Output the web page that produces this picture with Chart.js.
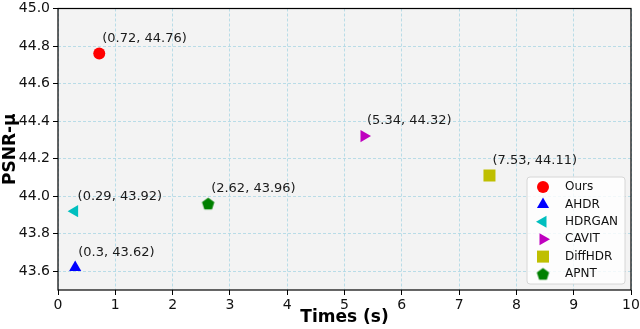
<!DOCTYPE html>
<html>
<head>
<meta charset="utf-8">
<script src="https://cdn.jsdelivr.net/npm/chart.js@4.4.1/dist/chart.umd.min.js"></script>
<style>
  html, body { margin: 0; padding: 0; background: #fff; }
  #wrap { width: 640px; height: 329px; }
</style>
</head>
<body>
<div id="wrap"><canvas id="chartPsnr"></canvas></div>
<script>
const methods = ['Ours', 'AHDR', 'HDRGAN', 'CAVIT', 'DiffHDR', 'APNT'];
const times = [0.72, 0.3, 0.29, 5.34, 7.53, 2.62];
const psnr = [44.76, 43.62, 43.92, 44.32, 44.11, 43.96];
const xTicks = [0, 1, 2, 3, 4, 5, 6, 7, 8, 9, 10];
const yTicks = [43.6, 43.8, 44.0, 44.2, 44.4, 44.6, 44.8, 45.0];

// pentagon marker for APNT, chart.js has no built-in one
function pentagon(color, r) {
  const c = document.createElement('canvas')
  c.width = c.height = Math.ceil(r * 2 + 2)
  const g = c.getContext('2d')
  const cx = c.width / 2, cy = c.height / 2 + 0.5
  g.beginPath()
  for (let i = 0; i < 5; i++) {
    const a = -Math.PI / 2 + i * 2 * Math.PI / 5
    const px = cx + r * Math.cos(a), py = cy + r * Math.sin(a)
    i ? g.lineTo(px, py) : g.moveTo(px, py)
  }
  g.closePath()
  g.fillStyle = color
  g.fill()
  return c
}

const markers = [
  { color: '#ff0000', style: 'circle', radius: 6, rotation: 0 },
  { color: '#0000ff', style: 'triangle', radius: 7, rotation: 0 },
  { color: '#00bfbf', style: 'triangle', radius: 7, rotation: -90 },
  { color: '#bf00bf', style: 'triangle', radius: 7, rotation: 90 },
  { color: '#bfbf00', style: 'rect', radius: 8.5, rotation: 0 },
  { color: '#008000', style: pentagon('#008000', 6.5), radius: 6.5, rotation: 0 }
]

const datasets = methods.map((m, i) => ({
  label: m,
  data: [{ x: times[i], y: psnr[i] }],
  pointStyle: markers[i].style,
  pointRadius: markers[i].radius,
  pointHoverRadius: markers[i].radius,
  pointRotation: markers[i].rotation,
  backgroundColor: markers[i].color,
  borderColor: markers[i].color,
  pointBorderWidth: 0
}))

const frame = {
  id: 'frame',
  beforeDraw(chart) {
    const { ctx, chartArea: a } = chart
    ctx.save()
    ctx.fillStyle = '#f3f3f3'
    ctx.fillRect(a.left, a.top, a.right - a.left, a.bottom - a.top)
    ctx.restore()
  },
  afterDatasetsDraw(chart) {
    const { ctx, chartArea: a } = chart
    ctx.save()
    // value labels next to each point
    ctx.font = '13px "DejaVu Sans"'
    ctx.fillStyle = '#1a1a1a'
    ctx.textBaseline = 'middle'
    chart.data.datasets.forEach((ds, i) => {
      const pt = chart.getDatasetMeta(i).data[0]
      ctx.fillText('(' + times[i] + ', ' + psnr[i] + ')', pt.x + 3, pt.y - 15)
    })
    // spines
    ctx.strokeStyle = '#000'
    ctx.lineWidth = 1.2
    ctx.strokeRect(a.left, a.top, a.right - a.left, a.bottom - a.top)

    // legend box in the lower right
    const bx = 527, by = 177, bw = 98, bh = 107
    ctx.beginPath()
    ctx.roundRect(bx, by, bw, bh, 3)
    ctx.fillStyle = 'rgba(255,255,255,0.8)'
    ctx.fill()
    ctx.strokeStyle = '#d6d6d6'
    ctx.lineWidth = 1
    ctx.stroke()
    ctx.font = '12px "DejaVu Sans"'
    ctx.textBaseline = 'middle'
    methods.forEach((m, i) => {
      const y = by + 10 + i * 17.4
      ctx.fillStyle = markers[i].color
      Chart.helpers.drawPoint(ctx, {
        pointStyle: markers[i].style,
        radius: markers[i].radius,
        rotation: markers[i].rotation,
        borderWidth: 0
      }, 543, y)
      ctx.fillStyle = '#111'
      ctx.fillText(m, 565, y)
    })
    ctx.restore()
  }
}

const tickFont = { family: 'DejaVu Sans', size: 14 }
const titleFont = { family: 'DejaVu Sans', size: 17, weight: 'bold' }
const gridOpts = { color: '#a9d5e3', lineWidth: 0.8, borderDash: [3, 2], tickColor: '#000', tickLength: 5, tickBorderDash: [], tickWidth: 1 }
const borderOpts = { display: false, dash: [3, 2] }

new Chart(document.getElementById('chartPsnr'), {
  type: 'scatter',
  data: { datasets },
  options: {
    responsive: true,
    maintainAspectRatio: false,
    animation: false,
    layout: { padding: { top: 6, right: 9, left: 0, bottom: 0 } },
    plugins: { legend: { display: false }, tooltip: { enabled: false } },
    scales: {
      x: {
        type: 'linear',
        min: 0, max: 10,
        afterBuildTicks: s => { s.ticks = xTicks.map(v => ({ value: v })) },
        afterFit: s => { s.height = 39; s.paddingLeft = 0; s.paddingRight = 0 },
        ticks: { font: tickFont, color: '#111', padding: 2, maxRotation: 0, callback: v => v },
        grid: gridOpts,
        border: borderOpts,
        title: { display: true, text: 'Times (s)', font: titleFont, color: '#000', padding: { top: 0, bottom: 1 } }
      },
      y: {
        type: 'linear',
        min: 43.5, max: 45.0,
        afterBuildTicks: s => { s.ticks = yTicks.map(v => ({ value: v })) },
        afterFit: s => { s.width = 58; s.paddingTop = 0; s.paddingBottom = 0 },
        ticks: { font: tickFont, color: '#111', padding: 3, callback: v => Number(v).toFixed(1) },
        grid: gridOpts,
        border: borderOpts,
        title: { display: true, text: 'PSNR-μ', font: titleFont, color: '#000', padding: { top: 0, bottom: 0 } }
      }
    }
  },
  plugins: [frame]
})
</script>
</body>
</html>
